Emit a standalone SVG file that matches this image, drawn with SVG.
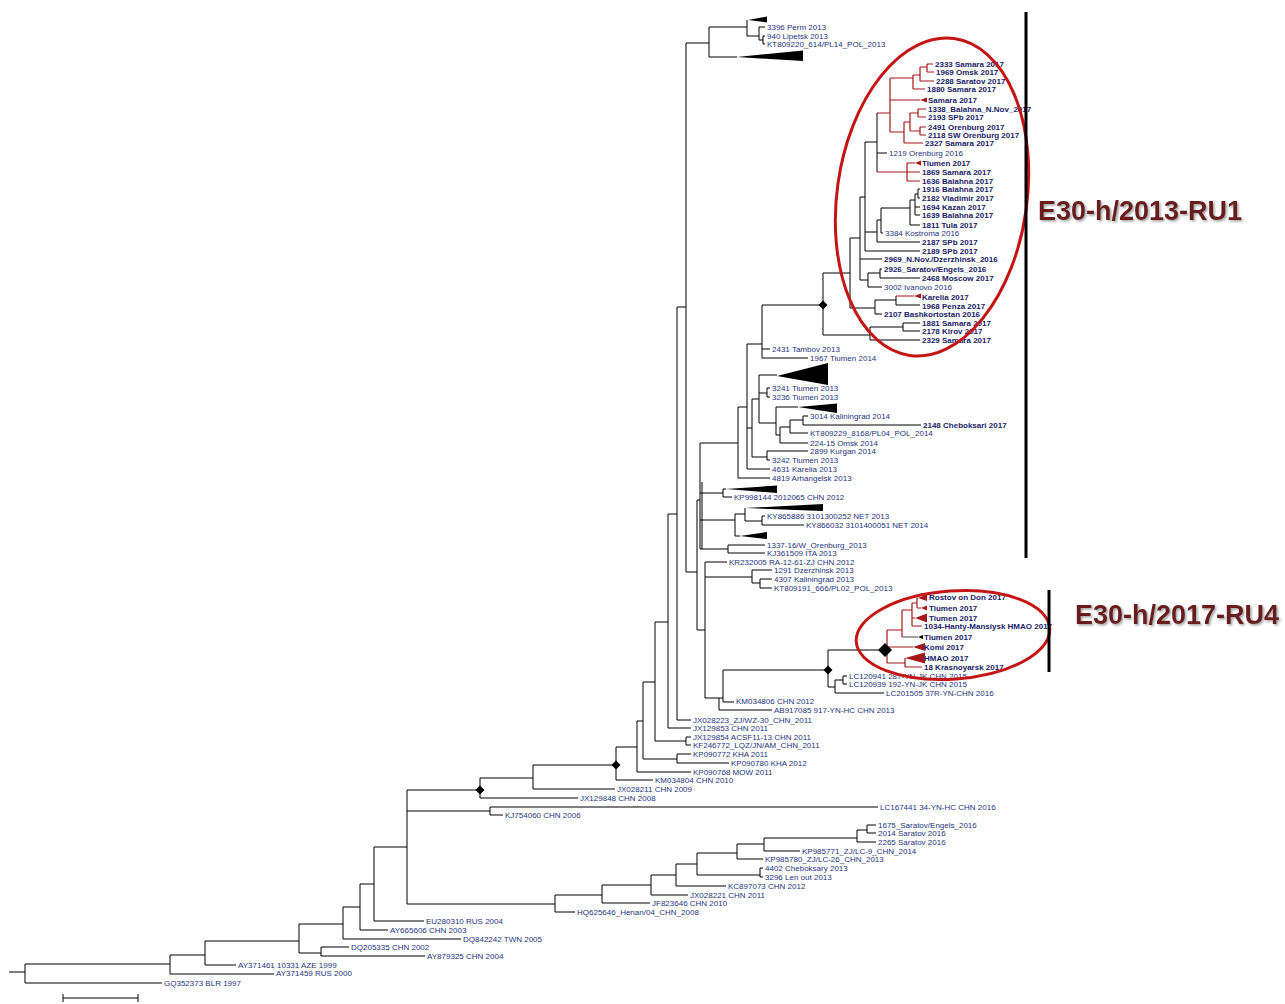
<svg xmlns="http://www.w3.org/2000/svg" width="1285" height="1004" viewBox="0 0 1285 1004">
<defs>
<style>
.b{stroke:#000;stroke-width:1;fill:none}
.r{stroke:#a31818;stroke-width:1.2;fill:none}
.g{stroke:#444;stroke-width:1;fill:none}
.t{font-family:"Liberation Sans",Arial,sans-serif;font-size:8px;fill:#1f3580}
.tb{font-family:"Liberation Sans",Arial,sans-serif;font-size:8px;font-weight:bold;fill:#1a2268}
.tri{fill:#000}
.trr{fill:#a31818}
.big{font-family:"Liberation Sans",Arial,sans-serif;font-size:27px;font-weight:bold;fill:#6b1d1d;filter:url(#sh)}
.ell{fill:none;stroke:#c41414;stroke-width:3}
.bar{stroke:#000;stroke-width:3}
</style>
<filter id="sh" x="-10%" y="-30%" width="120%" height="160%"><feDropShadow dx="1.5" dy="1.5" stdDeviation="1" flood-color="#888" flood-opacity="0.8"/></filter>
</defs>
<rect width="1285" height="1004" fill="#fff"/>
<g id="connectors">
<path class="b" d="M9 972H25 M25 964V983 M25 964H170 M25 983H162
M170 955V974 M170 955H205 M170 974H274
M205 941V965 M205 941H299 M205 965H236
M299 924V953 M299 924H343 M299 953H321
M321 947V956 M321 947H349 M321 956H425
M343 907V939 M343 907H360 M343 939H461
M360 884V930 M360 884H374 M360 930H388
M374 847V921 M374 847H407 M374 921H424
M407 790V904 M407 790H480 M407 811H490 M407 904H555
M490 807V815 M490 807H878 M490 815H503
M480 778V798 M480 778H533 M480 798H578
M533 765V789 M533 765H616 M533 789H615
M616 747V780 M616 747H637 M616 780H653
M637 721V772 M637 721H643 M637 772H691
M643 682V759 M643 682H655 M643 759H677
M677 754V763 M677 754H691 M677 763H729
M655 622V741 M655 622H668 M655 741H686
M686 737V745 M686 737H691 M686 745H691
M668 514V728 M668 514H677 M668 728H691
M677 307V720 M677 307H686 M677 720H691
M686 43V572 M686 43H709 M686 572H697
M697 500V630 M697 500H700 M697 630H705
M700 443V549 M700 443H738 M700 493H723 M700 520H735 M700 549H728
M702 482V549
M723 489V497 M723 489H726 M723 497H732
M735 514V536 M735 514H745 M735 536H740
M745 508V521 M745 521H762
M762 516V525 M762 516H765 M762 525H804
M728 545V553 M728 545H765 M728 553H765
M705 562V698 M705 562H727 M705 577H752 M705 698H719
M752 570V583 M752 570H772 M752 583H760
M760 579V588 M760 579H772 M760 588H772
M719 698V710 M719 698H723 M719 710H772
M723 670V702 M723 670H828 M723 702H734
M828 650V687 M828 650H887 M828 687H835
M835 680V693 M835 680H843 M835 693H884
M843 676V684 M843 676H847 M843 684H847
M762 305V358 M762 305H823 M762 349H770 M762 358H808
M747 344V469 M747 344H762 M747 428H752 M747 469H770
M738 407V478 M738 407H747 M738 478H770
M752 399V457 M752 399H759 M752 457H767
M759 375V423 M759 375H777 M759 393H767 M759 423H776
M767 388V397 M767 388H770 M767 397H770
M767 451V460 M767 451H808 M767 460H770
M776 407V435 M776 407H798 M776 435H780
M780 427V443 M780 427H790 M780 443H808
M790 420V433 M790 420H803 M790 433H808
M803 416V425 M803 416H808 M803 425H921
M709 27V57 M709 27H747 M709 57H737
M747 20V36 M747 36H759
M759 27V40 M759 27H765 M759 40H763
M763 36V44 M763 36H765 M763 44H765
M823 273V335 M823 273H850 M823 335H870
M850 238V308 M850 238H860 M850 308H875
M860 197V280 M860 197H865 M860 259H882 M860 280H868
M865 142V251 M865 142H877 M865 232H877 M865 251H920
M877 113V172 M877 153H887
M877 220V242 M877 220H881 M877 242H920
M881 208V233 M881 208H910 M881 233H883
M910 200V225 M910 200H915 M910 225H920
M915 194V215 M915 194H918 M915 207H920 M915 215H920
M918 189V198 M918 189H920 M918 198H920
M868 273V287 M868 273H880 M868 287H882
M880 269V278 M880 269H882 M880 278H920
M875 300V314 M875 300H896 M875 314H882
M896 296V305 M896 305H920
M870 327V340 M870 327H903 M870 340H920
M903 323V331 M903 323H920 M903 331H920
M555 895V912 M555 895H602 M555 912H575
M602 885V903 M602 885H651 M602 903H650
M651 875V895 M651 875H676 M651 895H688
M676 864V886 M676 864H697 M676 886H726
M697 853V875 M697 853H737 M697 875H760
M760 868V877 M760 868H763 M760 877H763
M737 844V859 M737 844H764 M737 859H763
M764 838V851 M764 838H857 M764 851H800
M857 830V842 M857 830H867 M857 842H876
M867 825V833 M867 825H876 M867 833H876"/>
<path class="r" d="M877 113H890 M877 172H907
M890 78V132 M890 78H913 M890 100H920 M890 132H904
M913 75V89 M913 75H920 M913 89H925
M920 67V81 M920 67H927 M920 81H934
M927 64V72 M927 64H933 M927 72H934
M904 122V143 M904 122H910 M904 143H923
M910 113V131 M910 113H918 M910 131H920
M918 109V117 M918 109H926 M918 117H926
M920 127V135 M920 127H926 M920 135H926
M907 163V181 M907 163H915 M907 172H920 M907 181H920
M896 296H914
M887 630V663 M887 630H902 M887 647H913 M887 663H905
M902 610V637 M902 610H912
M912 603V626 M912 603H917 M912 618H915 M912 626H922
M917 598V608 M917 598H918 M917 608H921
M905 658V667 M905 667H922"/>
<path class="g" d="M902 637H918"/>
</g>
<g id="collapsed">
<polygon class="tri" points="748,20 767,16.5 767,22.5"/>
<polygon class="tri" points="737,57 803,50.5 803,61"/>
<polygon class="tri" points="777,376 828,363 828,385"/>
<polygon class="tri" points="798,407 837,403.5 837,413"/>
<polygon class="tri" points="726,489 777,485.5 777,493"/>
<polygon class="tri" points="745,508 823,504 823,511"/>
<polygon class="tri" points="740,536 767,532 767,539"/>
<polygon class="trr" points="920,100 927,97.5 927,102.5"/>
<polygon class="trr" points="915,163 921,160.5 921,165.5"/>
<polygon class="trr" points="914,296 921,293.5 921,298.5"/>
<polygon class="trr" points="918,598 927,594.5 927,601"/>
<polygon class="trr" points="921,608 927,605.5 927,610.5"/>
<polygon class="trr" points="915,618 927,613.5 927,622.5"/>
<polygon class="tri" points="918,637 923,635 923,639"/>
<polygon class="trr" points="913,647 925,643 925,651"/>
<polygon class="trr" points="905,658 925,652.5 925,663.5"/>
</g>
<g id="node-markers">
<polygon class="tri" points="823,300.5 827.5,305 823,309.5 818.5,305"/>
<polygon class="tri" points="828,665.5 832.5,670 828,674.5 823.5,670"/>
<polygon class="tri" points="616,760.5 620.5,765 616,769.5 611.5,765"/>
<polygon class="tri" points="480,785.5 484.5,790 480,794.5 475.5,790"/>
<polygon class="tri" points="885,643 892,650 885,657 878,650"/>
</g>
<g id="leaves">
<g id="l1"><text class="t" x="767" y="30">3396 Perm 2013</text></g>
<g id="l2"><text class="t" x="767" y="39">940 Lipetsk 2013</text></g>
<g id="l3"><text class="t" x="767" y="47">KT809220_614/PL14_POL_2013</text></g>
<g id="l4"><text class="tb" x="935" y="67">2333 Samara 2017</text></g>
<g id="l5"><text class="tb" x="936" y="75">1969 Omsk 2017</text></g>
<g id="l6"><text class="tb" x="936" y="84">2288 Saratov 2017</text></g>
<g id="l7"><text class="tb" x="927" y="92">1880 Samara 2017</text></g>
<g id="l8"><text class="tb" x="928" y="103">Samara 2017</text></g>
<g id="l9"><text class="tb" x="928" y="112">1338_Balahna_N.Nov_2017</text></g>
<g id="l10"><text class="tb" x="928" y="120">2193 SPb 2017</text></g>
<g id="l11"><text class="tb" x="928" y="130">2491 Orenburg 2017</text></g>
<g id="l12"><text class="tb" x="928" y="138">2118 SW Orenburg 2017</text></g>
<g id="l13"><text class="tb" x="925" y="146">2327 Samara 2017</text></g>
<g id="l14"><text class="t" x="889" y="156">1219 Orenburg 2016</text></g>
<g id="l15"><text class="tb" x="922" y="166">Tiumen 2017</text></g>
<g id="l16"><text class="tb" x="922" y="175">1869 Samara 2017</text></g>
<g id="l17"><text class="tb" x="922" y="184">1636 Balahna 2017</text></g>
<g id="l18"><text class="tb" x="922" y="192">1916 Balahna 2017</text></g>
<g id="l19"><text class="tb" x="922" y="201">2182 Vladimir 2017</text></g>
<g id="l20"><text class="tb" x="922" y="210">1694 Kazan 2017</text></g>
<g id="l21"><text class="tb" x="922" y="218">1639 Balahna 2017</text></g>
<g id="l22"><text class="tb" x="922" y="228">1811 Tula 2017</text></g>
<g id="l23"><text class="t" x="885" y="236">3384 Kostroma 2016</text></g>
<g id="l24"><text class="tb" x="922" y="245">2187 SPb 2017</text></g>
<g id="l25"><text class="tb" x="922" y="254">2189 SPb 2017</text></g>
<g id="l26"><text class="tb" x="884" y="262">2969_N.Nov./Dzerzhinsk_2016</text></g>
<g id="l27"><text class="tb" x="884" y="272">2926_Saratov/Engels_2016</text></g>
<g id="l28"><text class="tb" x="922" y="281">2468 Moscow 2017</text></g>
<g id="l29"><text class="t" x="884" y="290">3002 Ivanovo 2016</text></g>
<g id="l30"><text class="tb" x="922" y="300">Karelia 2017</text></g>
<g id="l31"><text class="tb" x="922" y="309">1968 Penza 2017</text></g>
<g id="l32"><text class="tb" x="884" y="317">2107 Bashkortostan 2016</text></g>
<g id="l33"><text class="tb" x="922" y="326">1881 Samara 2017</text></g>
<g id="l34"><text class="tb" x="922" y="334">2178 Kirov 2017</text></g>
<g id="l35"><text class="tb" x="922" y="343">2329 Samara 2017</text></g>
<g id="l36"><text class="t" x="772" y="352">2431 Tambov 2013</text></g>
<g id="l37"><text class="t" x="810" y="361">1967 Tiumen 2014</text></g>
<g id="l38"><text class="t" x="772" y="391">3241 Tiumen 2013</text></g>
<g id="l39"><text class="t" x="772" y="400">3236 Tiumen 2013</text></g>
<g id="l40"><text class="t" x="810" y="419">3014 Kaliningrad 2014</text></g>
<g id="l41"><text class="tb" x="923" y="428">2148 Cheboksari 2017</text></g>
<g id="l42"><text class="t" x="810" y="436">KT809229_8168/PL04_POL_2014</text></g>
<g id="l43"><text class="t" x="810" y="446">224-15 Omsk 2014</text></g>
<g id="l44"><text class="t" x="810" y="454">2899 Kurgan 2014</text></g>
<g id="l45"><text class="t" x="772" y="463">3242 Tiumen 2013</text></g>
<g id="l46"><text class="t" x="772" y="472">4631 Karelia 2013</text></g>
<g id="l47"><text class="t" x="772" y="481">4819 Arhangelsk 2013</text></g>
<g id="l48"><text class="t" x="734" y="500">KP998144 2012065 CHN 2012</text></g>
<g id="l49"><text class="t" x="767" y="519">KY865886 3101300252 NET 2013</text></g>
<g id="l50"><text class="t" x="806" y="528">KY866032 3101400051 NET 2014</text></g>
<g id="l51"><text class="t" x="767" y="548">1337-16/W_Orenburg_2013</text></g>
<g id="l52"><text class="t" x="767" y="556">KJ361509 ITA 2013</text></g>
<g id="l53"><text class="t" x="729" y="565">KR232005 RA-12-61-ZJ CHN 2012</text></g>
<g id="l54"><text class="t" x="774" y="573">1291 Dzerzhinsk 2013</text></g>
<g id="l55"><text class="t" x="774" y="582">4307 Kaliningrad 2013</text></g>
<g id="l56"><text class="t" x="774" y="591">KT809191_666/PL02_POL_2013</text></g>
<g id="l57"><text class="tb" x="929" y="600">Rostov on Don 2017</text></g>
<g id="l58"><text class="tb" x="929" y="611">Tiumen 2017</text></g>
<g id="l59"><text class="tb" x="929" y="621">Tiumen 2017</text></g>
<g id="l60"><text class="tb" x="924" y="629">1034-Hanty-Mansiysk HMAO 2017</text></g>
<g id="l61"><text class="tb" x="924" y="640">Tiumen 2017</text></g>
<g id="l62"><text class="tb" x="924" y="650">Komi 2017</text></g>
<g id="l63"><text class="tb" x="924" y="661">HMAO 2017</text></g>
<g id="l64"><text class="tb" x="924" y="670">18 Krasnoyarsk 2017</text></g>
<g id="l65"><text class="t" x="849" y="679">LC120941 287-YN-JK CHN 2015</text></g>
<g id="l66"><text class="t" x="849" y="687">LC120939 192-YN-JK CHN 2015</text></g>
<g id="l67"><text class="t" x="886" y="696">LC201505 37R-YN-CHN 2016</text></g>
<g id="l68"><text class="t" x="736" y="704">KM034806 CHN 2012</text></g>
<g id="l69"><text class="t" x="774" y="713">AB917085 917-YN-HC CHN 2013</text></g>
<g id="l70"><text class="t" x="693" y="723">JX028223_ZJ/WZ-30_CHN_2011</text></g>
<g id="l71"><text class="t" x="693" y="731">JX129853 CHN 2011</text></g>
<g id="l72"><text class="t" x="693" y="740">JX129854 ACSF11-13 CHN 2011</text></g>
<g id="l73"><text class="t" x="693" y="748">KF246772_LQZ/JN/AM_CHN_2011</text></g>
<g id="l74"><text class="t" x="693" y="757">KP090772 KHA 2011</text></g>
<g id="l75"><text class="t" x="731" y="766">KP090780 KHA 2012</text></g>
<g id="l76"><text class="t" x="693" y="775">KP090768 MOW 2011</text></g>
<g id="l77"><text class="t" x="655" y="783">KM034804 CHN 2010</text></g>
<g id="l78"><text class="t" x="617" y="792">JX028211 CHN 2009</text></g>
<g id="l79"><text class="t" x="580" y="801">JX129848 CHN 2008</text></g>
<g id="l80"><text class="t" x="880" y="810">LC167441 34-YN-HC CHN 2016</text></g>
<g id="l81"><text class="t" x="505" y="818">KJ754060 CHN 2006</text></g>
<g id="l82"><text class="t" x="878" y="828">1675_Saratov/Engels_2016</text></g>
<g id="l83"><text class="t" x="878" y="836">2014 Saratov 2016</text></g>
<g id="l84"><text class="t" x="878" y="845">2265 Saratov 2016</text></g>
<g id="l85"><text class="t" x="802" y="854">KP985771_ZJ/LC-9_CHN_2014</text></g>
<g id="l86"><text class="t" x="765" y="862">KP985780_ZJ/LC-26_CHN_2013</text></g>
<g id="l87"><text class="t" x="765" y="871">4402 Cheboksary 2013</text></g>
<g id="l88"><text class="t" x="765" y="880">3296 Len out 2013</text></g>
<g id="l89"><text class="t" x="728" y="889">KC897073 CHN 2012</text></g>
<g id="l90"><text class="t" x="690" y="898">JX028221 CHN 2011</text></g>
<g id="l91"><text class="t" x="652" y="906">JF823646 CHN 2010</text></g>
<g id="l92"><text class="t" x="577" y="915">HQ625646_Henan/04_CHN_2008</text></g>
<g id="l93"><text class="t" x="426" y="924">EU280310 RUS 2004</text></g>
<g id="l94"><text class="t" x="390" y="933">AY665606 CHN 2003</text></g>
<g id="l95"><text class="t" x="463" y="942">DQ842242 TWN 2005</text></g>
<g id="l96"><text class="t" x="351" y="950">DQ205335 CHN 2002</text></g>
<g id="l97"><text class="t" x="427" y="959">AY879325 CHN 2004</text></g>
<g id="l98"><text class="t" x="238" y="968">AY371461 10331 AZE 1999</text></g>
<g id="l99"><text class="t" x="276" y="976">AY371459 RUS 2000</text></g>
<g id="l100"><text class="t" x="164" y="986">GQ352373 BLR 1997</text></g>
</g>
<g id="scale-bar"><path class="b" d="M63 998H138 M63 994V1002 M138 994V1002"/></g>
<g id="clade-RU1">
<ellipse class="ell" cx="932" cy="197" rx="95" ry="160" transform="rotate(8 932 197)"/>
<line class="bar" x1="1026" y1="12" x2="1026" y2="558"/>
<text class="big" x="1038" y="220">E30-h/2013-RU1</text>
</g>
<g id="clade-RU4">
<ellipse class="ell" cx="953" cy="635" rx="97" ry="44" transform="rotate(-4 953 635)"/>
<line class="bar" x1="1049" y1="590" x2="1049" y2="672"/>
<text class="big" x="1075" y="624">E30-h/2017-RU4</text>
</g>
</svg>
